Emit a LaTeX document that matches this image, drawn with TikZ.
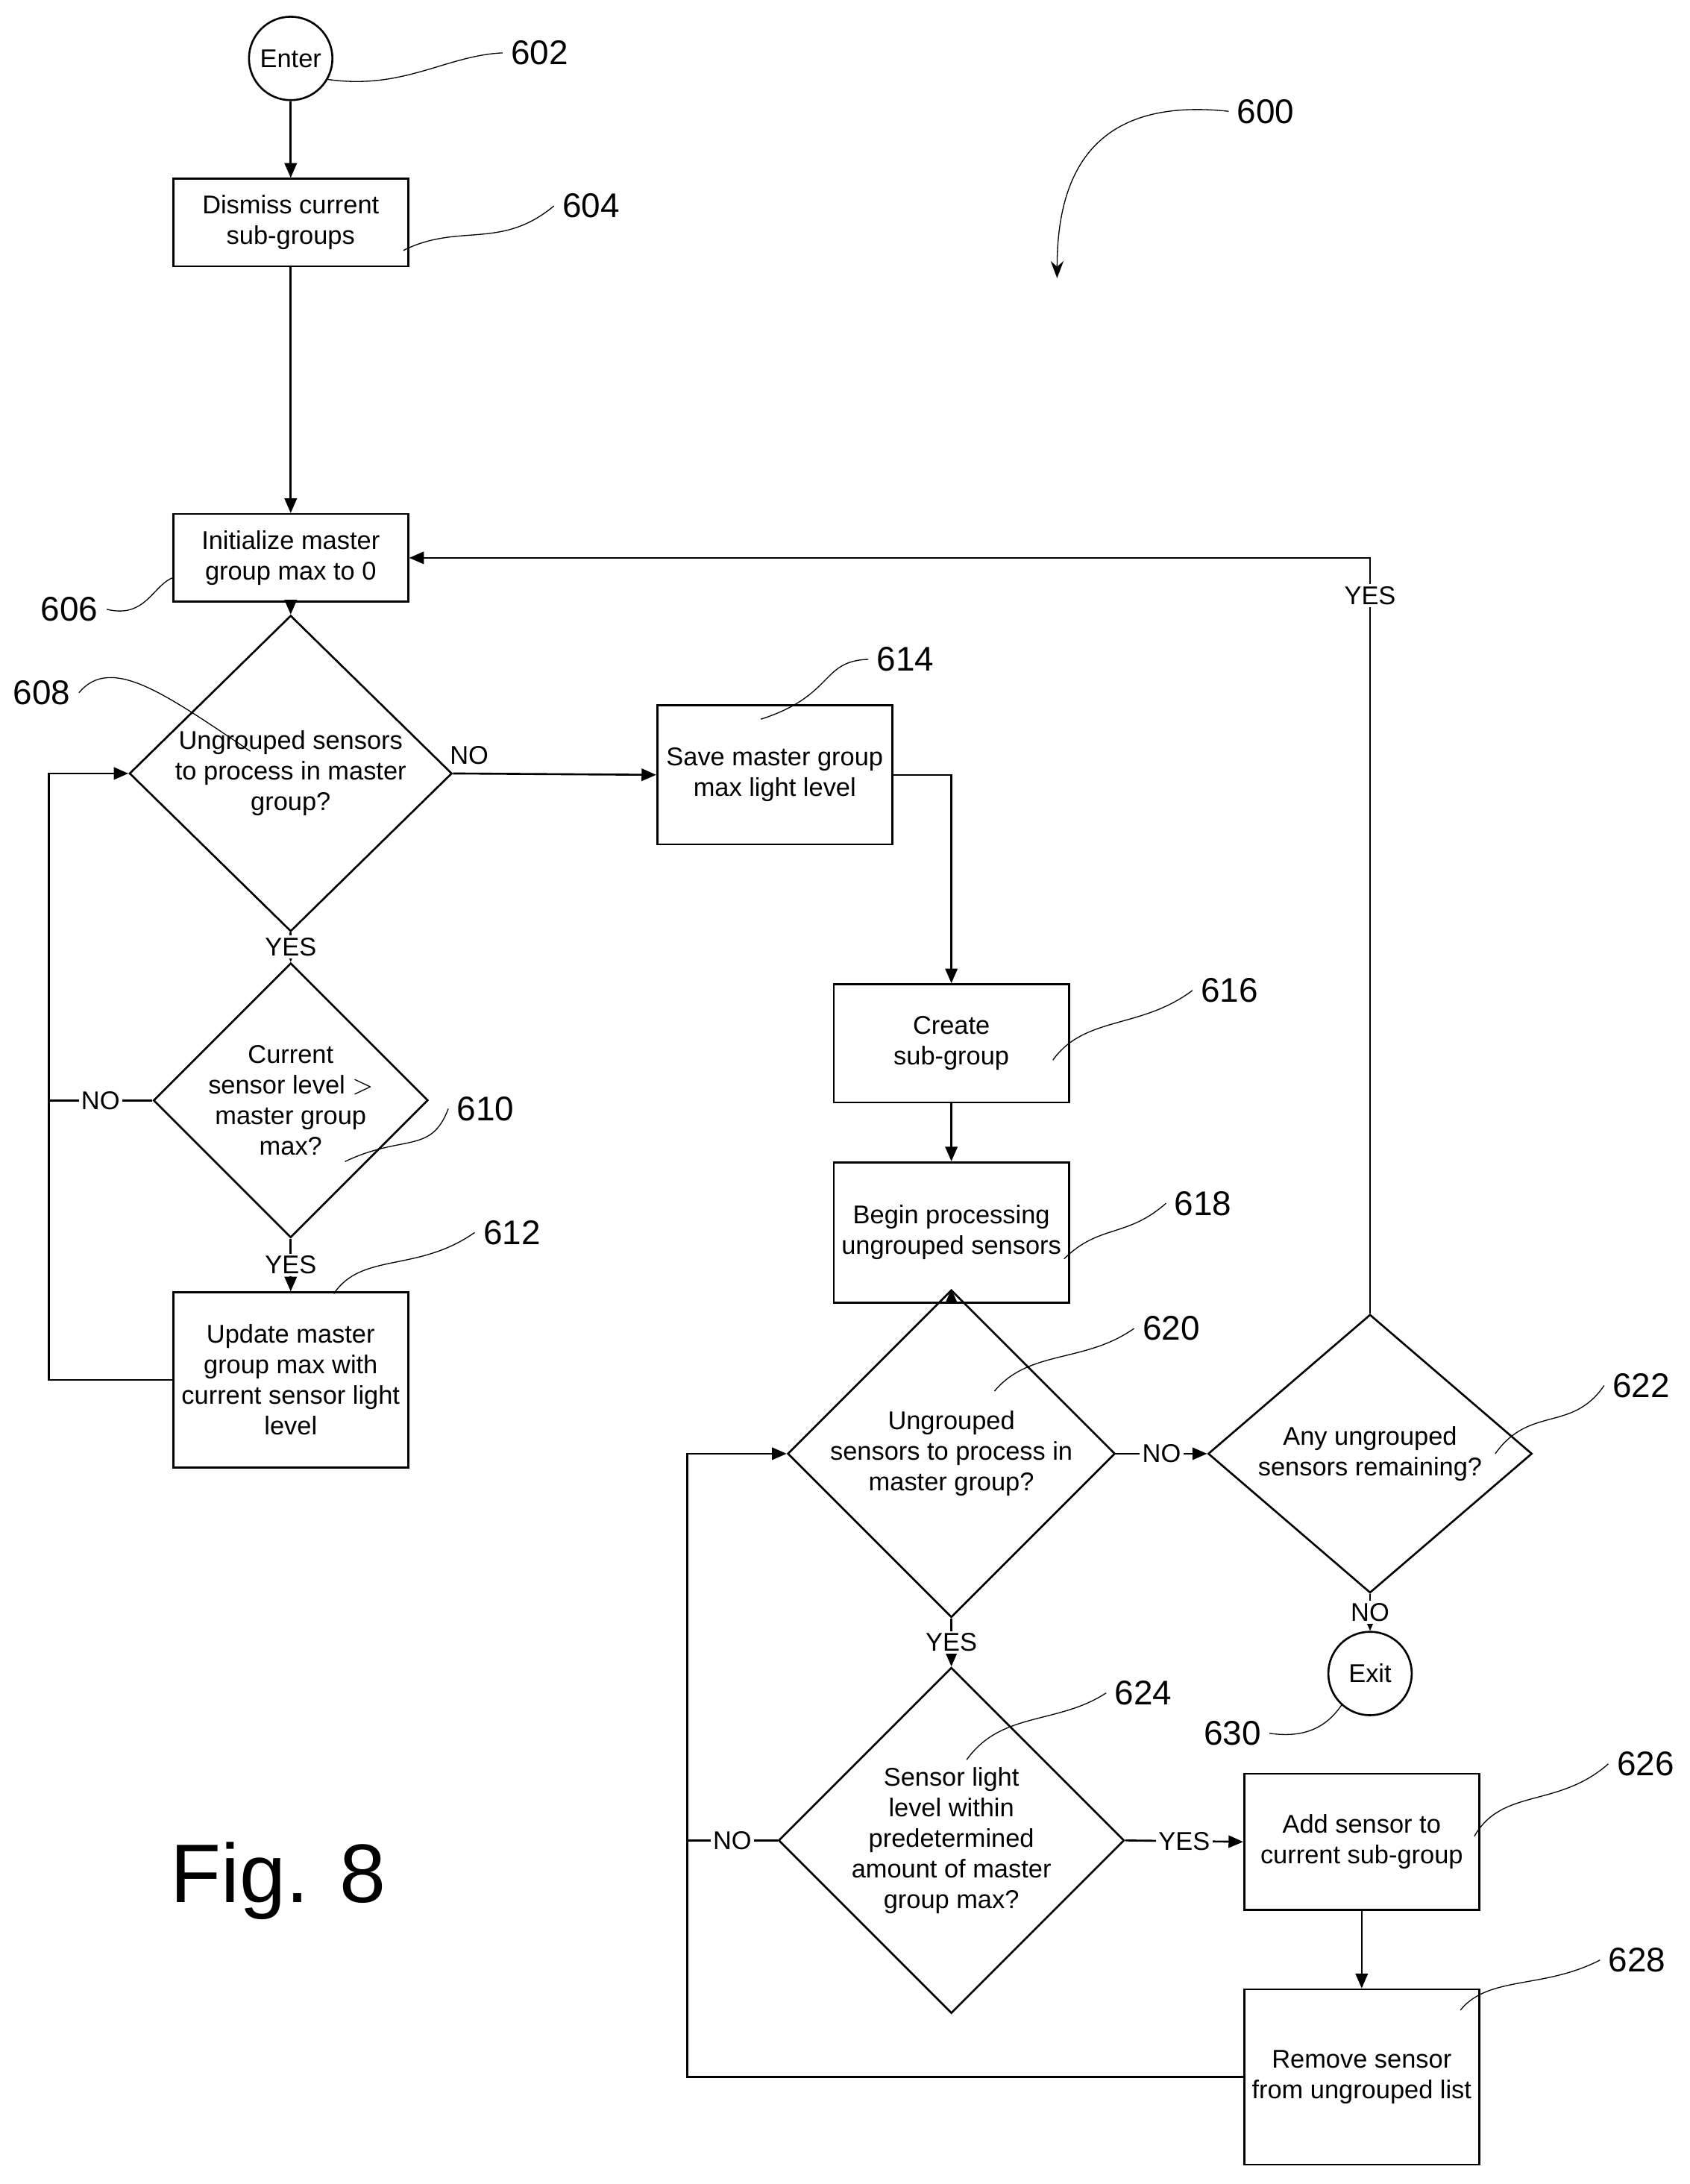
\documentclass[tikz,border=0pt]{standalone}
\usepackage{fontspec}
\setmainfont{Liberation Sans}
\usetikzlibrary{shapes.geometric,arrows.meta}
\begin{document}
\begin{tikzpicture}[x=0.02cm,y=-0.02cm,
  every node/.style={align=center,font=\fontsize{10.5}{12.5}\selectfont},
  box/.style={draw,thick,minimum width=3.38cm,inner sep=0pt},
  decision/.style={draw,thick,diamond,inner sep=0pt},
  term/.style={draw,thick,circle,minimum size=1.2cm,inner sep=0pt},
  flow/.style={-{Triangle[length=6pt,width=5pt]},thick},
  line/.style={thick},
  lbl/.style={fill=white,inner sep=1pt},
  num/.style={font=\fontsize{14}{16}\selectfont},
  lead/.style={thin}]
\useasboundingbox (0,0) rectangle (1215,1570);

% Terminals, boxes and decisions
\node[term] (enter) at (209,42) {Enter};
\node[box,minimum height=1.26cm] (dismiss) at (209,160) {Dismiss current\\sub-groups};
\node[box,minimum height=1.26cm] (init) at (209,401) {Initialize master\\group max to 0};
\node[decision,minimum width=4.64cm,minimum height=3.44cm] (ungrA) at (209,556) {Ungrouped sensors\\to process in master\\group?};
\node[decision,minimum width=3.76cm,minimum height=2.82cm] (curr) at (209,791) {Current\\sensor level $>$\\master group\\max?};
\node[box,minimum height=2.52cm] (update) at (209,992) {Update master\\group max with\\current sensor light\\level};
\node[box,minimum height=2cm] (save) at (557,557) {Save master group\\max light level};
\node[box,minimum height=1.7cm] (create) at (684,750) {Create\\sub-group};
\node[box,minimum height=2.02cm] (begin) at (684,886) {Begin processing\\ungrouped sensors};
\node[decision,minimum width=4.64cm,minimum height=2.52cm] (ungrB) at (684,1045) {Ungrouped\\sensors to process in\\master group?};
\node[decision,minimum width=4.66cm,minimum height=2.52cm] (any) at (985,1045) {Any ungrouped\\sensors remaining?};
\node[term] (exit) at (985,1203) {Exit};
\node[decision,minimum width=4.48cm,minimum height=3.34cm] (within) at (684,1323) {Sensor light\\level within\\predetermined\\amount of master\\group max?};
\node[box,minimum height=1.96cm] (add) at (979,1324) {Add sensor to\\current sub-group};
\node[box,minimum height=2.52cm] (remove) at (979,1493) {Remove sensor\\from ungrouped list};
\node[font=\fontsize{34}{40}\selectfont] (fig) at (200,1352) {Fig. 8};

% Helper points for the loops
\coordinate (lA) at (35,556);
\coordinate (lB) at (35,992);
\coordinate (lC) at (35,791);
\coordinate (rA) at (684,557);
\coordinate (bA) at (494,1045);
\coordinate (bB) at (494,1493);
\coordinate (bC) at (494,1323);
\coordinate (tA) at (985,401);

% Flow
\draw[flow] (enter) -- (dismiss);
\draw[flow] (dismiss) -- (init);
\draw[flow] (init) -- (ungrA);
\draw[flow] (ungrA) -- node[lbl]{YES} (curr);
\draw[flow] (curr) -- node[lbl]{YES} (update);
\draw[flow] (update.west) -- (lB) -- (lA) -- (ungrA.west);
\draw[line] (curr.west) -- node[lbl]{NO} (lC);
\draw[flow] (ungrA.east) -- node[above,pos=0.08]{NO} (save.west);
\draw[flow] (save.east) -| (create.north);
\draw[flow] (create) -- (begin);
\draw[flow] (begin) -- (ungrB);
\draw[flow] (ungrB.east) -- node[lbl]{NO} (any.west);
\draw[flow] (ungrB) -- node[lbl]{YES} (within);
\draw[flow] (within.east) -- node[lbl]{YES} (add.west);
\draw[flow] (add) -- (remove);
\draw[flow] (remove.west) -- (bB) -- (bA) -- (ungrB.west);
\draw[line] (within.west) -- node[lbl]{NO} (bC);
\draw[flow] (any.north) -- node[lbl,pos=0.95]{YES} (tA) -- (init.east);
\draw[flow] (any) -- node[lbl]{NO} (exit);

% Reference numerals
\node[num] (n600) at (910,80) {600};
\node[num] (n602) at (388,38) {602};
\node[num] (n604) at (425,148) {604};
\node[num] (n606) at (50,438) {606};
\node[num] (n608) at (30,498) {608};
\node[num] (n610) at (349,797) {610};
\node[num] (n612) at (368,886) {612};
\node[num] (n614) at (651,474) {614};
\node[num] (n616) at (884,712) {616};
\node[num] (n618) at (865,865) {618};
\node[num] (n620) at (842,955) {620};
\node[num] (n622) at (1180,996) {622};
\node[num] (n624) at (822,1217) {624};
\node[num] (n626) at (1183,1268) {626};
\node[num] (n628) at (1177,1409) {628};
\node[num] (n630) at (886,1246) {630};

% Leaders
\draw[lead,-{Stealth[length=7pt]}] (n600.west) .. controls (790,70) and (760,120) .. (760,200);
\draw[lead] (235,57) .. controls (290,65) and (320,40) .. (n602.west);
\draw[lead] (290,180) .. controls (330,160) and (360,180) .. (n604.west);
\draw[lead] (n606.east) .. controls (105,445) and (110,420) .. (125,415);
\draw[lead] (n608.east) .. controls (80,470) and (120,500) .. (180,540);
\draw[lead] (248,835) .. controls (290,815) and (310,830) .. (n610.west);
\draw[lead] (240,930) .. controls (260,900) and (300,915) .. (n612.west);
\draw[lead] (547,517) .. controls (600,500) and (590,475) .. (n614.west);
\draw[lead] (757,762) .. controls (780,730) and (820,740) .. (n616.west);
\draw[lead] (765,905) .. controls (790,880) and (810,890) .. (n618.west);
\draw[lead] (715,1000) .. controls (740,970) and (780,980) .. (n620.west);
\draw[lead] (1075,1045) .. controls (1100,1010) and (1130,1030) .. (n622.west);
\draw[lead] (695,1265) .. controls (720,1230) and (760,1240) .. (n624.west);
\draw[lead] (1060,1320) .. controls (1080,1285) and (1120,1300) .. (n626.west);
\draw[lead] (1050,1445) .. controls (1070,1420) and (1110,1430) .. (n628.west);
\draw[lead] (n630.east) .. controls (940,1250) and (955,1240) .. (965,1225);
\end{tikzpicture}
\end{document}
